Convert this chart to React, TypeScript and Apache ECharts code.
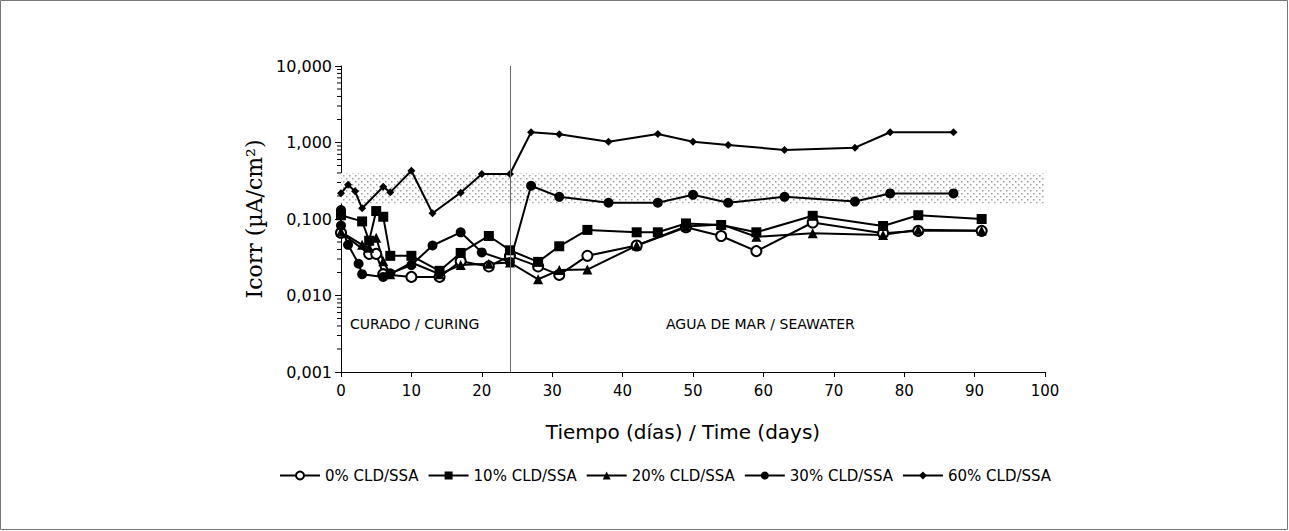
import React, { useEffect, useRef } from "react";
import * as echarts from "echarts";

// ---- data ----
const seriesNames = ["0% CLD/SSA", "10% CLD/SSA", "20% CLD/SSA", "30% CLD/SSA", "60% CLD/SSA"];

const s0: number[][] = [
  [0, 0.066], [4, 0.035], [5, 0.035], [6, 0.019], [10, 0.0175], [14, 0.0175], [17, 0.028],
  [21, 0.024], [24, 0.033], [28, 0.024], [31, 0.0186], [35, 0.033], [42, 0.045], [49, 0.078],
  [54, 0.06], [59, 0.038], [67, 0.09], [77, 0.065], [82, 0.07], [91, 0.07],
];
const s10: number[][] = [
  [0, 0.112], [3, 0.093], [4, 0.052], [5, 0.127], [6, 0.107], [7, 0.033], [10, 0.033],
  [14, 0.021], [17, 0.036], [21, 0.06], [24, 0.039], [28, 0.0275], [31, 0.044], [35, 0.072],
  [42, 0.067], [45, 0.067], [49, 0.0875], [54, 0.0835], [59, 0.067], [67, 0.11], [77, 0.081],
  [82, 0.112], [91, 0.1],
];
const s20: number[][] = [
  [0, 0.068], [3, 0.046], [4, 0.042], [5, 0.057], [6, 0.028], [7, 0.019], [10, 0.027],
  [14, 0.019], [17, 0.025], [21, 0.026], [24, 0.027], [28, 0.0163], [31, 0.0215], [35, 0.0218],
  [42, 0.045], [49, 0.08], [54, 0.085], [59, 0.0585], [67, 0.065], [77, 0.062], [82, 0.0725],
  [91, 0.07],
];
const s30: number[][] = [
  [0, 0.131], [0, 0.082], [1, 0.046], [2.5, 0.026], [3, 0.019], [6, 0.0175], [7, 0.0195],
  [10, 0.025], [13, 0.045], [17, 0.067], [20, 0.0366], [24, 0.0275], [27, 0.272], [31, 0.195],
  [38, 0.163], [45, 0.163], [50, 0.207], [55, 0.163], [63, 0.195], [73, 0.169], [78, 0.216],
  [87, 0.216],
];
const s60: number[][] = [
  [0, 0.217], [1, 0.28], [2, 0.23], [3, 0.138], [6, 0.264], [7, 0.223], [10, 0.428],
  [13, 0.119], [17, 0.221], [20, 0.387], [24, 0.387], [27, 1.36], [31, 1.28], [38, 1.02],
  [45, 1.29], [50, 1.02], [55, 0.93], [63, 0.8], [73, 0.855], [78, 1.36], [87, 1.36],
];

const symbols = ["emptyCircle", "rect", "triangle", "circle", "diamond"];
const symbolSizes = [10, 10, 10, 10, 8];
const seriesData = [s0, s10, s20, s30, s60];

const bandRange = [0.16, 0.4];
const boundaryDay = 24;
const yMin = 0.001;
const yMax = 10;
const xMin = 0;
const xMax = 100;
const xInterval = 10;
const minorTickValues: number[] = [];
[0.001, 0.01, 0.1, 1].forEach((d) => {
  for (let k = 2; k <= 9; k++) minorTickValues.push(d * k);
});
const regionLabels = ["CURADO / CURING", "AGUA DE MAR / SEAWATER"];

const FONT = "'DejaVu Sans', Verdana, sans-serif";

export default function App() {
  const ref = useRef<HTMLDivElement>(null);
  useEffect(() => {
    if (!ref.current) return;
    const chart = echarts.init(ref.current, undefined, { renderer: "svg" });

    const cv = document.createElement("canvas");
    cv.width = 6;
    cv.height = 6;
    const ctx = cv.getContext("2d")!;
    ctx.fillStyle = "#ffffff";
    ctx.fillRect(0, 0, 6, 6);
    ctx.fillStyle = "#a0a0a0";
    ctx.fillRect(1, 1, 1.5, 1.5);
    ctx.fillRect(4, 4, 1.5, 1.5);

    const lineSeries = seriesNames.map((name, i) => {
      const s: any = {
        name,
        type: "line",
        data: seriesData[i],
        symbol: symbols[i],
        symbolSize: symbolSizes[i],
        showAllSymbol: true,
        lineStyle: { color: "#000", width: 2 },
        itemStyle: { color: "#000", borderColor: "#000", borderWidth: i === 0 ? 1.2 : 0 },
        z: 3,
      };
      if (i === 0) {
        s.markArea = {
          silent: true,
          itemStyle: { color: { image: cv, repeat: "repeat", imageWidth: 6, imageHeight: 6 } },
          data: [[{ xAxis: xMin, yAxis: bandRange[0] }, { xAxis: xMax, yAxis: bandRange[1] }]],
          z: 1,
        };
        s.markLine = {
          silent: true,
          symbol: "none",
          label: { show: false },
          lineStyle: { color: "#666", width: 1, type: "solid" },
          data: [{ xAxis: boundaryDay }],
        };
      }
      return s;
    });

    const option: any = {
      animation: false,
      backgroundColor: "#fff",
      grid: { left: 341, right: 244, top: 66, bottom: 159 },
      legend: {
        data: seriesNames,
        left: 279,
        top: 468,
        padding: 0,
        itemWidth: 40,
        itemHeight: 10,
        itemGap: 9,
        textStyle: { fontFamily: FONT, fontSize: 15, color: "#000" },
      },
      xAxis: {
        type: "value",
        min: xMin,
        max: xMax,
        interval: xInterval,
        splitLine: { show: false },
        axisLine: { lineStyle: { color: "#000", width: 1 } },
        axisTick: { show: true, inside: false, length: 5, lineStyle: { color: "#000" } },
        axisLabel: { fontFamily: FONT, fontSize: 15, color: "#000", margin: 11 },
        name: "Tiempo (días) / Time (days)",
        nameLocation: "middle",
        nameGap: 50,
        nameTextStyle: { fontFamily: FONT, fontSize: 20, color: "#000", padding: [0, 20, 0, 0] },
      },
      yAxis: {
        type: "log",
        logBase: 10,
        min: yMin,
        max: yMax,
        splitLine: { show: false },
        axisLine: { show: true, lineStyle: { color: "#000", width: 1 } },
        axisTick: { show: true, inside: false, length: 6, lineStyle: { color: "#000" } },
        axisLabel: {
          fontFamily: FONT,
          fontSize: 16,
          color: "#000",
          margin: 9,
          formatter: (v: number) => v.toFixed(3).replace(".", ","),
        },
        name: "Icorr (µA/cm²)",
        nameLocation: "middle",
        nameGap: 50,
        nameTextStyle: { fontFamily: "'DejaVu Serif', serif", fontSize: 22, color: "#000" },
      },
      graphic: [
        {
          type: "rect",
          silent: true,
          shape: { x: 0.5, y: 0.5, width: 1287, height: 529 },
          style: { fill: "none", stroke: "#777", lineWidth: 1 },
          z: 0,
        },
        {
          type: "text",
          left: 350,
          top: 317,
          style: { text: regionLabels[0], font: `14px ${FONT}`, fill: "#000" },
        },
        {
          type: "text",
          left: 666,
          top: 317,
          style: { text: regionLabels[1], font: `14px ${FONT}`, fill: "#000" },
        },
      ],
      series: [
        ...lineSeries,
        {
          type: "custom",
          silent: true,
          clip: false,
          data: minorTickValues.map((v) => [xMin, v]),
          encode: { x: 0, y: 1 },
          renderItem: (_params: any, api: any) => {
            const p = api.coord([api.value(0), api.value(1)]);
            return {
              type: "line",
              shape: { x1: p[0] - 4, y1: p[1], x2: p[0], y2: p[1] },
              style: { stroke: "#000", lineWidth: 1 },
            };
          },
          z: 2,
        },
      ],
    };
    chart.setOption(option);
    return () => chart.dispose();
  }, []);
  return (
    <div
      ref={ref}
      style={{ position: "absolute", left: 0, top: 0, width: 1289, height: 531, background: "#fff" }}
    />
  );
}
